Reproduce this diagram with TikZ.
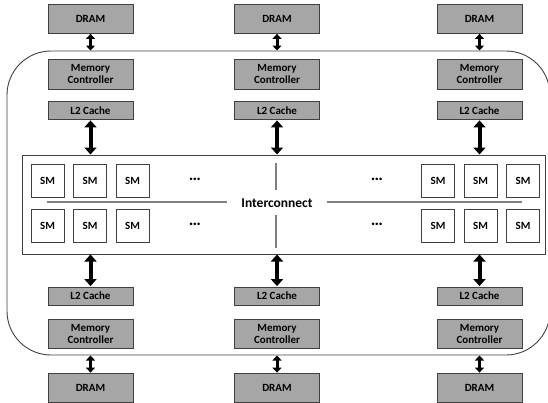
\documentclass[tikz,border=0pt]{standalone}
\usepackage{fontspec}
\setmainfont{Carlito}
\usetikzlibrary{arrows.meta}
\definecolor{boxgray}{HTML}{A6A6A6}
\definecolor{edgegray}{HTML}{404040}
\definecolor{linegray}{HTML}{7F7F7F}
\tikzset{
  unit/.style={draw=edgegray, line width=0.8pt, fill=boxgray, minimum width=85pt, inner sep=0pt,
    font=\fontsize{11}{12}\selectfont\bfseries, align=center},
  smbox/.style={draw=edgegray, line width=0.7pt, fill=white, minimum width=33pt, minimum height=33pt,
    inner sep=0pt, font=\fontsize{11}{12}\selectfont\bfseries},
  dots/.style={inner sep=0pt, font=\fontsize{17}{18}\selectfont\bfseries},
  thinarrow/.style={line width=3pt, {Triangle[width=9pt,length=5pt]}-{Triangle[width=9pt,length=5pt]}, shorten <=0.5pt, shorten >=0.5pt},
  thickarrow/.style={line width=4pt, {Triangle[width=12pt,length=7pt]}-{Triangle[width=12pt,length=7pt]}, shorten <=0.5pt, shorten >=0.5pt},
  icline/.style={draw=linegray, line width=1.5pt}
}
\begin{document}
\begin{tikzpicture}[x=1pt,y=-1pt]
\useasboundingbox (0,0) rectangle (548,402);
\clip (0,0) rectangle (548,402);
% outer rounded chip boundary
\draw[draw=edgegray, line width=0.9pt, rounded corners=44pt] (7,51) rectangle (550,355);
% interconnect box
\node[draw=edgegray, line width=0.8pt, fill=white, minimum width=523pt, minimum height=99pt, inner sep=0pt] (ic) at (283.5,204.5) {};
% columns
\foreach \c/\x in {1/90.5,2/277,3/479.5}{
  \node[unit, minimum height=29pt] (dt\c) at (\x,18.5) {DRAM};
  \node[unit, minimum height=30pt] (mct\c) at (\x,74) {Memory\\Controller};
  \node[unit, minimum height=18pt] (lt\c) at (\x,110.5) {L2 Cache};
  \node[unit, minimum height=18pt] (lb\c) at (\x,296) {L2 Cache};
  \node[unit, minimum height=29pt] (mcb\c) at (\x,333.5) {Memory\\Controller};
  \node[unit, minimum height=29pt] (db\c) at (\x,388) {DRAM};
  \coordinate (ict\c) at (\x,155);
  \coordinate (icb\c) at (\x,254);
  \coordinate (chipt\c) at (\x,51);
  \coordinate (chipb\c) at (\x,355);
  \draw[thinarrow] (dt\c.south) -- (chipt\c);
  \draw[thickarrow] (lt\c.south) -- (ict\c);
  \draw[thickarrow] (icb\c) -- (lb\c.north);
  \draw[thinarrow] (chipb\c) -- (db\c.north);
}
% SMs
\foreach \i/\x in {1/47.5,2/90,3/132.5,4/438,5/480.5,6/523}{
  \node[smbox] (sma\i) at (\x,181) {SM};
  \node[smbox] (smb\i) at (\x,225.5) {SM};
}
\node[dots] (da1) at (195,179) {…};
\node[dots] (da2) at (377,179) {…};
\node[dots] (db1x) at (195,224) {…};
\node[dots] (db2x) at (377,224) {…};
% interconnect label and lines
\node[inner sep=0pt, font=\fontsize{13.5}{14}\selectfont\bfseries] (iclabel) at (277,203) {Interconnect};
\coordinate (hl1) at (47,202);
\coordinate (hl2) at (227,202);
\coordinate (hr1) at (327,202);
\coordinate (hr2) at (522,202);
\coordinate (vt1) at (276,163);
\coordinate (vt2) at (276,190);
\coordinate (vb1) at (276,215);
\coordinate (vb2) at (276,248);
\draw[icline] (hl1) -- (hl2);
\draw[icline] (hr1) -- (hr2);
\draw[icline] (vt1) -- (vt2);
\draw[icline] (vb1) -- (vb2);
\end{tikzpicture}
\end{document}
